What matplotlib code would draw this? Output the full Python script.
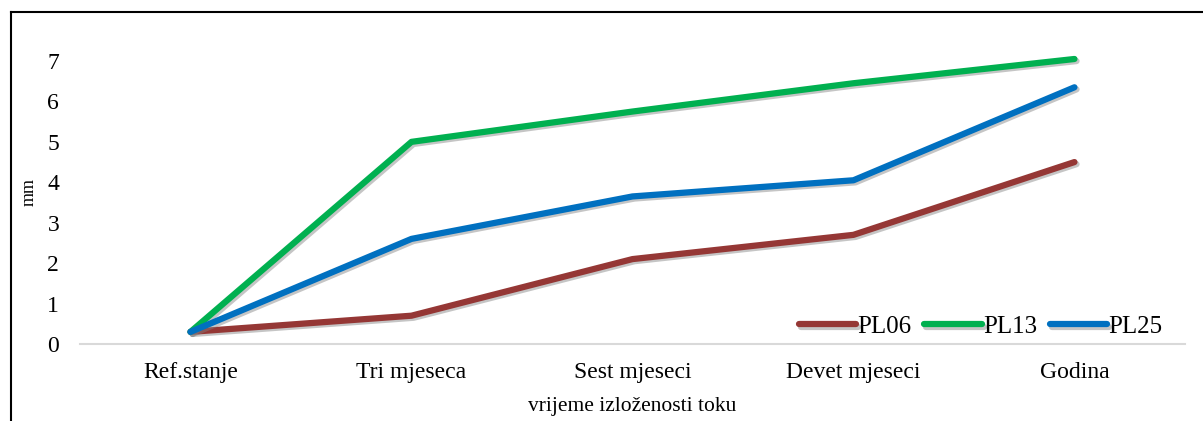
import matplotlib.pyplot as plt
import matplotlib.patheffects as pe
from matplotlib.lines import Line2D
import numpy as np

plt.rcParams['font.family'] = ['Liberation Serif', 'DejaVu Serif']

# podaci
kategorije = ['Ref.stanje', 'Tri mjeseca', 'Sest mjeseci', 'Devet mjeseci', 'Godina']
pl06 = [0.3, 0.7, 2.1, 2.7, 4.5]
pl13 = [0.3, 5.0, 5.75, 6.45, 7.05]
pl25 = [0.3, 2.6, 3.65, 4.05, 6.35]
serije = [('PL06', pl06, '#953735'), ('PL13', pl13, '#00B050'), ('PL25', pl25, '#0070C0')]

fig = plt.figure(figsize=(12.03, 4.21), dpi=100)
ax = fig.add_axes([0.0665, 0.1829, 0.9185, 0.7202])

x = np.arange(len(kategorije))
sjena = [pe.SimpleLineShadow(offset=(1.5, -1.5), shadow_color='#808080', alpha=0.45), pe.Normal()]
for ime, vrijednosti, boja in serije:
    ax.plot(x, vrijednosti, color=boja, lw=4.5, label=ime,
            solid_capstyle='round', solid_joinstyle='round', path_effects=sjena)

ax.set_xlim(-0.5, len(kategorije) - 0.5)
ax.set_ylim(0, 7.5)
ax.set_yticks(range(0, 8))
ax.set_xticks(x)
ax.set_xticklabels(kategorije)
ax.tick_params(axis='both', length=0, labelsize=17)
ax.tick_params(axis='y', pad=15)
ax.tick_params(axis='x', pad=13)

for s in ['top', 'right', 'left']:
    ax.spines[s].set_visible(False)
ax.spines['bottom'].set_color('#D9D9D9')
ax.spines['bottom'].set_linewidth(1.5)

ax.set_ylabel('mm', fontsize=13, labelpad=7)
ax.set_xlabel('vrijeme izloženosti toku', fontsize=15.5, labelpad=10)

leg = ax.legend(loc='lower right', bbox_to_anchor=(1.0, -0.055), ncol=3, frameon=False,
                fontsize=18, handlelength=2.3, handletextpad=0.05, columnspacing=0.5)

# okvir slike (lijevo i gore)
fig.add_artist(Line2D([0.009, 0.009], [0, 0.972], transform=fig.transFigure, color='black', lw=1.5))
fig.add_artist(Line2D([0.009, 1.0], [0.972, 0.972], transform=fig.transFigure, color='black', lw=1.5))

fig.savefig('out.png', dpi=100)
